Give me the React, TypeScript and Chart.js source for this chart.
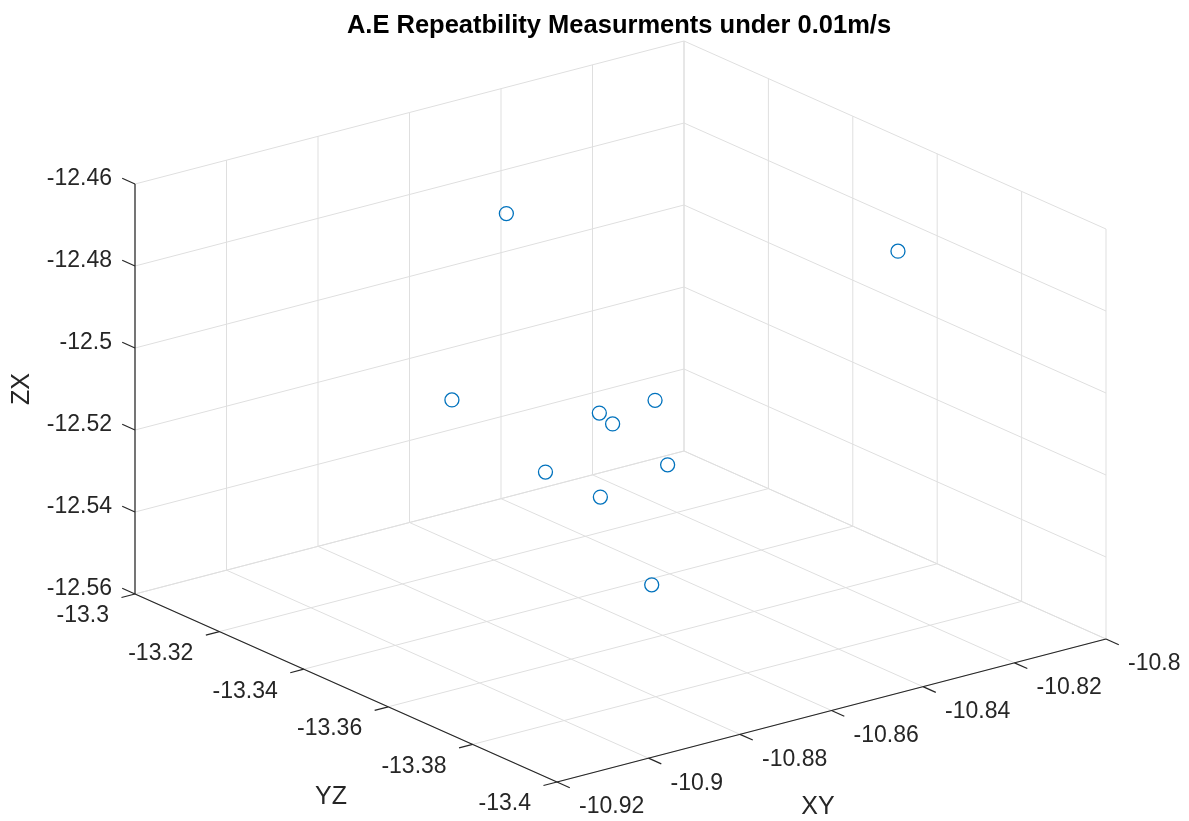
import React, { useEffect, useRef } from 'react';
import { Chart, registerables } from 'chart.js';

Chart.register(...registerables);

// ---------- data ----------
const TITLE = 'A.E Repeatbility Measurments under 0.01m/s';
const XY_LABEL = 'XY';
const YZ_LABEL = 'YZ';
const ZX_LABEL = 'ZX';

const xyTicks = [-10.92, -10.9, -10.88, -10.86, -10.84, -10.82, -10.8];
const xyTickLabels = ['-10.92', '-10.9', '-10.88', '-10.86', '-10.84', '-10.82', '-10.8'];
const yzTicks = [-13.3, -13.32, -13.34, -13.36, -13.38, -13.4];
const yzTickLabels = ['-13.3', '-13.32', '-13.34', '-13.36', '-13.38', '-13.4'];
const zxTicks = [-12.56, -12.54, -12.52, -12.5, -12.48, -12.46];
const zxTickLabels = ['-12.56', '-12.54', '-12.52', '-12.5', '-12.48', '-12.46'];

const xyValues = [-10.8665, -10.8178, -10.8784, -10.8554, -10.8525, -10.834, -10.8764, -10.8497, -10.8644, -10.8624];
const yzValues = [-13.33, -13.37, -13.33, -13.34, -13.34, -13.33, -13.35, -13.35, -13.35, -13.36];
const zxValues = [-12.469, -12.474, -12.511, -12.5163, -12.5198, -12.524, -12.52, -12.526, -12.5296, -12.547];

// ---------- view / layout ----------
const W = 1189;
const H = 821;
const ORIGIN = { x: 135, y: 594 }; // corner (xy min, yz first, zx min)
const U = { x: 422, y: 188 }; // full YZ range
const V = { x: 549, y: -143 }; // full XY range
const Z = { x: 0, y: -410 }; // full ZX range

const XY0 = xyTicks[0], XY1 = xyTicks[xyTicks.length - 1];
const YZ0 = yzTicks[0], YZ1 = yzTicks[yzTicks.length - 1];
const ZX0 = zxTicks[0], ZX1 = zxTicks[zxTicks.length - 1];

function project(xy: number, yz: number, zx: number) {
  const a = (yz - YZ0) / (YZ1 - YZ0);
  const b = (xy - XY0) / (XY1 - XY0);
  const c = (zx - ZX0) / (ZX1 - ZX0);
  return {
    x: ORIGIN.x + a * U.x + b * V.x + c * Z.x,
    y: ORIGIN.y + a * U.y + b * V.y + c * Z.y,
  };
}

const FONT = '"Liberation Sans", Arial, Helvetica, sans-serif';
const GRID = '#dfdfdf';
const AXIS = '#262626';
const TEXT = '#262626';
const MARKER = 'rgb(0,114,189)';

function unit(v: { x: number; y: number }) {
  const l = Math.hypot(v.x, v.y);
  return { x: v.x / l, y: v.y / l };
}

const box3dPlugin = {
  id: 'box3d',
  beforeDatasetsDraw(chart: any) {
    const ctx = chart.ctx as CanvasRenderingContext2D;
    const sx = chart.scales.x;
    const sy = chart.scales.y;
    const P = (xy: number, yz: number, zx: number) => {
      const p = project(xy, yz, zx);
      return { x: sx.getPixelForValue(p.x), y: sy.getPixelForValue(p.y) };
    };
    const line = (p1: any, p2: any) => {
      ctx.beginPath();
      ctx.moveTo(p1.x, p1.y);
      ctx.lineTo(p2.x, p2.y);
      ctx.stroke();
    };
    ctx.save();
    // grid
    ctx.strokeStyle = GRID;
    ctx.lineWidth = 1;
    // floor
    xyTicks.forEach((xy) => line(P(xy, YZ0, ZX0), P(xy, YZ1, ZX0)));
    yzTicks.forEach((yz) => line(P(XY0, yz, ZX0), P(XY1, yz, ZX0)));
    // left/back wall (yz = YZ0)
    xyTicks.forEach((xy) => line(P(xy, YZ0, ZX0), P(xy, YZ0, ZX1)));
    zxTicks.forEach((zx) => line(P(XY0, YZ0, zx), P(XY1, YZ0, zx)));
    // right/back wall (xy = XY1)
    yzTicks.forEach((yz) => line(P(XY1, yz, ZX0), P(XY1, yz, ZX1)));
    zxTicks.forEach((zx) => line(P(XY1, YZ0, zx), P(XY1, YZ1, zx)));

    // axes
    ctx.strokeStyle = AXIS;
    ctx.lineWidth = 1.2;
    line(P(XY0, YZ0, ZX0), P(XY0, YZ0, ZX1));
    line(P(XY0, YZ0, ZX0), P(XY0, YZ1, ZX0));
    line(P(XY0, YZ1, ZX0), P(XY1, YZ1, ZX0));

    const uDir = unit(U);
    const vDir = unit(V);
    const TL = 14;
    ctx.fillStyle = TEXT;
    ctx.font = `23px ${FONT}`;
    // ZX ticks
    ctx.textAlign = 'right';
    ctx.textBaseline = 'middle';
    zxTicks.forEach((zx, i) => {
      const p = P(XY0, YZ0, zx);
      line(p, { x: p.x - uDir.x * TL, y: p.y - uDir.y * TL });
      ctx.fillText(zxTickLabels[i], p.x - 23, p.y - 5);
    });
    // YZ ticks
    yzTicks.forEach((yz, i) => {
      const p = P(XY0, yz, ZX0);
      line(p, { x: p.x - vDir.x * TL, y: p.y - vDir.y * TL });
      ctx.fillText(yzTickLabels[i], p.x - 26, p.y + 22);
    });
    // XY ticks
    ctx.textAlign = 'left';
    xyTicks.forEach((xy, i) => {
      const p = P(xy, YZ1, ZX0);
      line(p, { x: p.x + uDir.x * TL, y: p.y + uDir.y * TL });
      ctx.fillText(xyTickLabels[i], p.x + 22, p.y + 25);
    });

    // axis labels
    ctx.font = `25px ${FONT}`;
    ctx.textAlign = 'center';
    ctx.textBaseline = 'middle';
    ctx.fillText(YZ_LABEL, 331, 797);
    ctx.fillText(XY_LABEL, 818, 807);
    ctx.save();
    ctx.translate(22, 389);
    ctx.rotate(-Math.PI / 2);
    ctx.fillText(ZX_LABEL, 0, 0);
    ctx.restore();

    // title
    ctx.fillStyle = '#000';
    ctx.font = `bold 25.5px ${FONT}`;
    ctx.fillText(TITLE, 619, 26);
    ctx.restore();
  },
};

export default function App() {
  const canvasRef = useRef<HTMLCanvasElement | null>(null);

  useEffect(() => {
    const canvas = canvasRef.current;
    if (!canvas) return;
    const points = xyValues.map((xy, i) => project(xy, yzValues[i], zxValues[i]));
    const chart = new Chart(canvas, {
      type: 'scatter',
      data: {
        datasets: [
          {
            label: 'measurements',
            data: points,
            pointStyle: 'circle',
            pointRadius: 7,
            pointHoverRadius: 7,
            pointBorderWidth: 1.3,
            borderColor: MARKER,
            backgroundColor: 'rgba(0,0,0,0)',
          },
        ],
      },
      options: {
        responsive: false,
        animation: false,
        devicePixelRatio: 1,
        events: [],
        layout: { padding: 0, autoPadding: false },
        scales: {
          x: { type: 'linear', min: 0, max: W, display: false },
          y: { type: 'linear', min: 0, max: H, reverse: true, display: false },
        },
        plugins: {
          legend: { display: false },
          tooltip: { enabled: false },
          title: { display: false },
        },
      },
      plugins: [box3dPlugin],
    });
    return () => chart.destroy();
  }, []);

  return (
    <div style={{ position: 'absolute', left: 0, top: 0, width: W, height: H, background: '#fff' }}>
      <canvas ref={canvasRef} width={W} height={H} style={{ display: 'block' }} />
    </div>
  );
}
